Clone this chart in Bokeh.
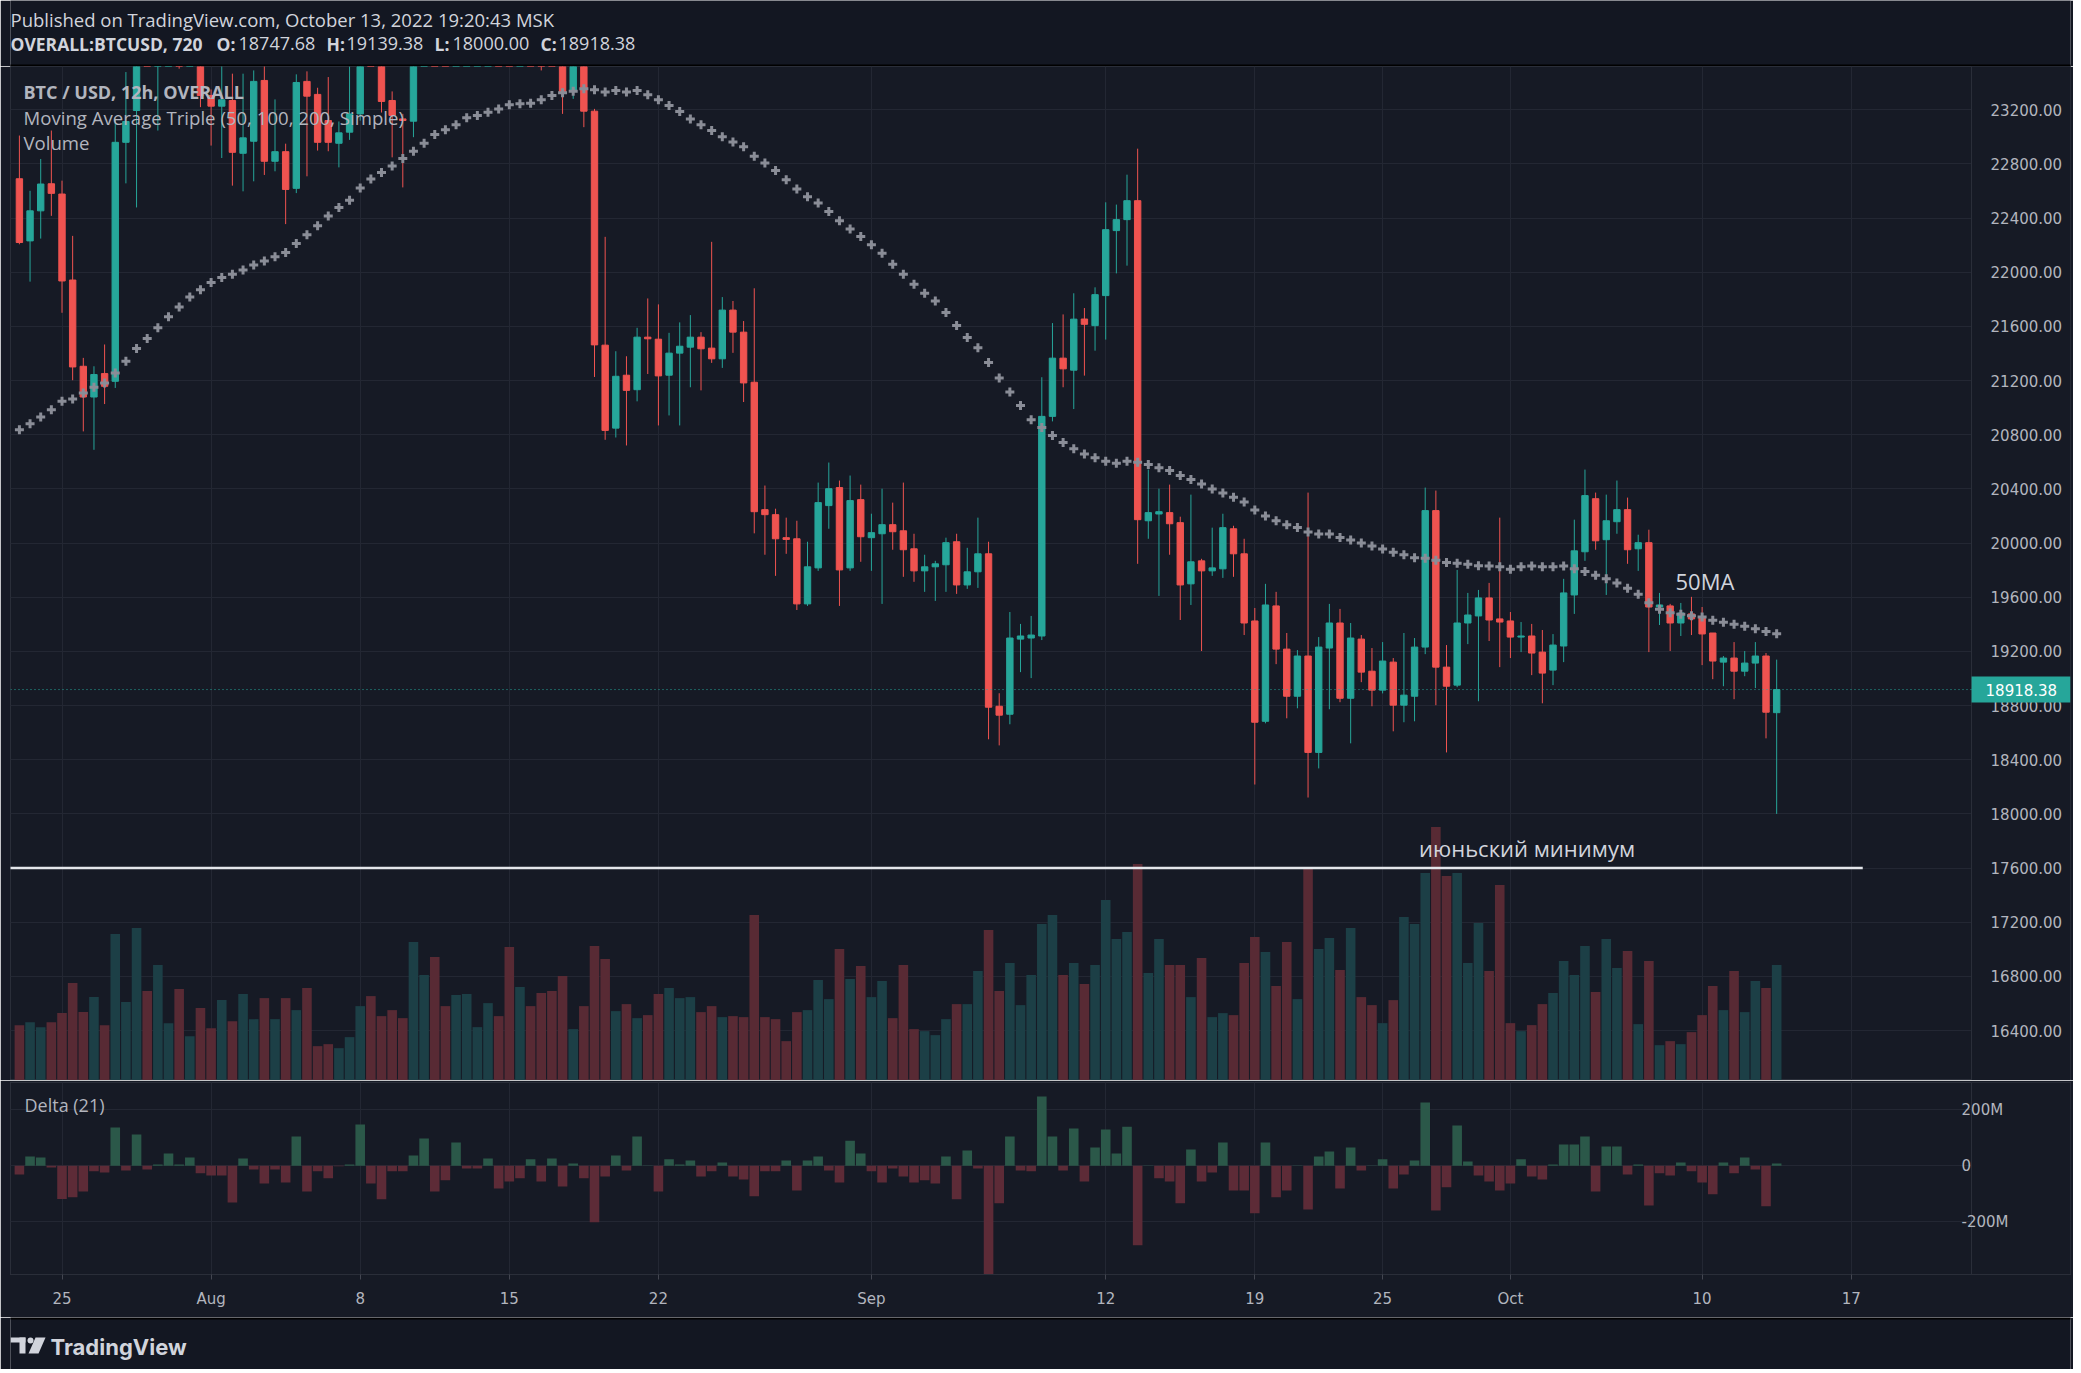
import pandas as pd
from bokeh.plotting import figure
from bokeh.layouts import column
from bokeh.models import (Range1d, FixedTicker, Label, Span, NumeralTickFormatter, Grid,
                          LinearAxis, BoxAnnotation)
from bokeh.embed import file_html
from bokeh.resources import INLINE
from bokeh.core.properties import value

# ---------------- data ----------------
start_time = "2022-07-23 00:00"   # first 12h candle

opens = [22691, 22232, 22454, 22654, 22578, 21943, 21306, 21079, 21252, 21195,
         22960, 23195, 23850, 23650, 23950, 24150, 23800, 23900, 23306, 23227,
         23269, 22879, 22968, 23417, 22820, 22891, 22620, 23410, 23314, 23121,
         22953, 23035, 23170, 23800, 23650, 23269, 23133, 23116, 23900, 24400,
         23950, 23800, 24100, 24300, 24450, 24600, 24300, 24100, 24200, 23950,
         23750, 23650, 23336, 23600, 23190, 21462, 20849, 21240, 21133, 21521,
         21506, 21240, 21403, 21447, 21521, 21440, 21361, 21721, 21558, 21188,
         20247, 20210, 20040, 20032, 19551, 19817, 20277, 20410, 19817, 20321,
         20040, 20069, 20136, 20091, 19958, 19795, 19825, 19840, 20010, 19691,
         19788, 19921, 18795, 18736, 19291, 19299, 19314, 20936, 21366, 21277,
         21655, 21606, 21828, 22308, 22389, 22529, 20165, 20215, 20225, 20151,
         19699, 19869, 19795, 19810, 20106, 19921, 19425, 18684, 19536, 19217,
         18869, 19166, 18454, 19225, 19410, 18854, 19291, 19054, 18914, 19121,
         18803, 18869, 19232, 20240, 19084, 18951, 19410, 19462, 19595, 19440,
         19425, 19306, 19314, 19195, 19062, 19240, 19617, 19936, 20328, 20025,
         20158, 20247, 19958, 20003, 19528, 19536, 19410, 19477, 19454, 19336,
         19121, 19151, 19054, 19114, 19166, 18747.68]

highs = [23010, 22602, 22837, 23047, 22677, 22269, 21368, 21306, 21467, 23133,
         23479, 24000, 24150, 24300, 24400, 24650, 24100, 24050, 23350, 23565,
         23467, 23467, 23491, 23565, 23277, 22950, 23462, 23484, 23363, 23442,
         23114, 23521, 23900, 24250, 23900, 23336, 23170, 24000, 24900, 24700,
         24300, 24450, 24500, 24850, 25000, 24700, 25200, 24300, 24250, 24200,
         24000, 23900, 23750, 23650, 23207, 22262, 21417, 21380, 21590, 21807,
         21763, 21553, 21630, 21684, 21558, 22225, 21817, 21788, 21640, 21882,
         20425, 20254, 20188, 20165, 20010, 20447, 20595, 20462, 20499, 20432,
         20217, 20402, 20299, 20447, 20069, 19914, 19869, 20040, 20069, 19965,
         20188, 20010, 18891, 19491, 19403, 19462, 21225, 21625, 21689, 21845,
         21736, 21889, 22517, 22500, 22721, 22913, 20543, 20402, 20432, 20195,
         20358, 19884, 20114, 20217, 20128, 20032, 19521, 19699, 19640, 19336,
         19210, 20373, 19306, 19551, 19514, 19410, 19321, 19225, 19269, 19151,
         19336, 19299, 20410, 20388, 19247, 19802, 19632, 19654, 19706, 20188,
         19491, 19417, 19403, 19358, 19328, 19736, 20173, 20543, 20373, 20358,
         20462, 20336, 20062, 20099, 19632, 19551, 19558, 19603, 19528, 19336,
         19166, 19269, 19203, 19269, 19188, 19139.38]

lows = [22207, 21931, 22249, 22417, 21701, 21203, 20825, 20689, 21027, 21146,
        22657, 22479, 23550, 23047, 23700, 23504, 23521, 23220, 22936, 22844,
        22640, 22598, 22672, 22719, 22746, 22356, 22585, 22709, 22899, 22894,
        22775, 22978, 23120, 23560, 23180, 22849, 22627, 22998, 23850, 23900,
        23600, 23700, 24000, 24200, 24250, 24100, 24000, 23800, 23750, 23491,
        23600, 23170, 23281, 23072, 21227, 20763, 20780, 20721, 21047, 21249,
        20869, 20943, 20869, 21151, 21128, 21331, 21294, 21405, 21042, 20072,
        19914, 19758, 19921, 19506, 19536, 19795, 20106, 19536, 19795, 19862,
        19795, 19551, 19951, 19751, 19714, 19640, 19573, 19640, 19625, 19662,
        19669, 18551, 18506, 18662, 19047, 19003, 19284, 20899, 21151, 20990,
        21237, 21421, 21503, 21992, 22049, 19847, 20032, 19610, 19914, 19432,
        19543, 19203, 19758, 19743, 19751, 19321, 18217, 18669, 19106, 18706,
        18780, 18121, 18336, 18773, 18825, 18521, 18973, 18795, 18890, 18610,
        18677, 18684, 19180, 18803, 18454, 18936, 19254, 18832, 19277, 19084,
        19151, 19195, 19025, 18817, 18951, 19121, 19477, 19869, 19951, 19617,
        20069, 19847, 19795, 19195, 19395, 19203, 19314, 19321, 19099, 18995,
        18943, 18847, 19017, 18929, 18558, 18000.00]

closes = [22220, 22454, 22652, 22583, 21936, 21301, 21079, 21245, 21158, 22960,
          23114, 23850, 23650, 23950, 24150, 23800, 23900, 23306, 23227, 23274,
          22886, 22993, 23410, 22820, 22891, 22612, 23402, 23301, 22960, 22960,
          23030, 23170, 23800, 23650, 23262, 23158, 23121, 23900, 24400, 23950,
          23800, 24100, 24300, 24450, 24600, 24300, 24100, 24200, 23950, 23750,
          23650, 23331, 23600, 23190, 21464, 20832, 21232, 21128, 21521, 21509,
          21235, 21403, 21454, 21521, 21435, 21361, 21721, 21558, 21183, 20232,
          20210, 20032, 20027, 19551, 19825, 20299, 20402, 19802, 20314, 20047,
          20077, 20136, 20084, 19951, 19795, 19825, 19847, 20003, 19691, 19788,
          19921, 18788, 18729, 19299, 19314, 19321, 20936, 21366, 21287, 21654,
          21616, 21835, 22315, 22389, 22529, 20173, 20225, 20232, 20143, 19691,
          19862, 19795, 19817, 20114, 19921, 19410, 18677, 19543, 19217, 18869,
          19166, 18454, 19232, 19410, 18854, 19299, 19047, 18914, 19129, 18803,
          18877, 19232, 20240, 19084, 18943, 19410, 19469, 19595, 19432, 19417,
          19306, 19314, 19188, 19040, 19247, 19632, 19943, 20351, 20017, 20165,
          20247, 19951, 20003, 19528, 19543, 19410, 19484, 19440, 19329, 19129,
          19151, 19054, 19114, 19166, 18751, 18918.38]

ma50 = [20837, 20882, 20931, 20985, 21047, 21064, 21109, 21151, 21183, 21257,
        21343, 21437, 21511, 21590, 21672, 21743, 21817, 21872, 21924, 21961,
        21985, 22017, 22054, 22084, 22114, 22146, 22212, 22277, 22343, 22415,
        22479, 22533, 22622, 22689, 22738, 22785, 22840, 22894, 22953, 23017,
        23052, 23089, 23141, 23158, 23183, 23207, 23237, 23244, 23249, 23274,
        23306, 23326, 23338, 23356, 23348, 23331, 23343, 23331, 23343, 23311,
        23274, 23232, 23188, 23133, 23089, 23047, 23002, 22963, 22928, 22857,
        22807, 22751, 22684, 22615, 22558, 22511, 22450, 22380, 22319, 22264,
        22203, 22141, 22059, 21985, 21911, 21845, 21788, 21704, 21608, 21519,
        21442, 21334, 21220, 21116, 21017, 20911, 20854, 20795, 20743, 20696,
        20659, 20630, 20605, 20590, 20605, 20598, 20580, 20556, 20536, 20499,
        20469, 20437, 20400, 20370, 20338, 20304, 20244, 20200, 20165, 20136,
        20116, 20082, 20067, 20067, 20042, 20022, 20000, 19978, 19956, 19933,
        19914, 19891, 19889, 19874, 19857, 19852, 19844, 19832, 19830, 19825,
        19807, 19825, 19830, 19825, 19825, 19830, 19810, 19790, 19763, 19736,
        19706, 19667, 19622, 19560, 19511, 19486, 19474, 19464, 19454, 19430,
        19415, 19400, 19385, 19368, 19348, 19331]

volume = [166, 175, 160, 175, 202, 292, 205, 250, 166, 439,
          235, 457, 268, 346, 172, 274, 133, 217, 157, 241,
          178, 259, 184, 247, 184, 247, 211, 277, 103, 109,
          97, 130, 223, 253, 193, 211, 187, 415, 316, 370,
          223, 256, 259, 160, 232, 193, 400, 280, 223, 262,
          268, 313, 154, 223, 403, 364, 208, 229, 187, 196,
          259, 277, 247, 250, 205, 223, 190, 193, 190, 496,
          190, 184, 118, 205, 211, 301, 244, 394, 304, 343,
          250, 298, 187, 346, 154, 148, 136, 184, 229, 229,
          328, 451, 268, 352, 226, 316, 469, 496, 316, 352,
          289, 346, 541, 424, 445, 649, 322, 424, 346, 346,
          250, 367, 190, 202, 196, 352, 430, 385, 283, 415,
          244, 640, 394, 427, 331, 457, 250, 226, 172, 241,
          490, 469, 622, 760, 613, 622, 352, 472, 328, 586,
          172, 148, 166, 229, 262, 358, 316, 403, 265, 424,
          337, 388, 169, 358, 106, 118, 109, 145, 196, 283,
          211, 328, 205, 298, 277, 346]

delta_m = [-31, 33, 30, -6, -119, -113, -92, -20, -24, 137,
           -17, 112, -13, 5, 44, 5, 30, -27, -35, -35,
           -131, 26, -13, -63, -13, -60, 105, -92, -20, -45,
           -2, 5, 148, -63, -120, -20, -20, 37, 98, -92,
           -52, 83, -10, -10, 26, -81, -56, -45, 23, -56,
           26, -74, 8, -45, -202, -38, 37, -17, 105, 1,
           -92, 23, 5, 19, -38, -20, 12, -38, -49, -109,
           -20, -20, 19, -88, 19, 33, -17, -60, 90, 44,
           -20, -60, -10, -38, -60, -52, -63, 33, -120, 55,
           -10, -388, -134, 105, -17, -20, 248, 105, -17, 133,
           -56, 65, 130, 44, 140, -284, 1, -45, -56, -134,
           58, -56, -24, 83, -88, -88, -170, 83, -113, -88,
           1, -156, 33, 51, -81, 65, -17, 1, 23, -81,
           -31, 19, 226, -160, -77, 144, 15, -35, -56, -88,
           -63, 23, -38, -49, 5, 76, 76, 105, -92, 69,
           69, -31, 5, -142, -27, -35, 12, -20, -60, -102,
           12, -27, 30, -13, -145, 8]

price_ticks = [16400, 16800, 17200, 17600, 18000, 18400, 18800, 19200, 19600,
               20000, 20400, 20800, 21200, 21600, 22000, 22400, 22800, 23200]
delta_ticks = [-200, 0, 200]
delta_tick_labels = ["-200M", "0", "200M"]
tick_dates = ["2022-07-25", "2022-08-01", "2022-08-08", "2022-08-15", "2022-08-22",
              "2022-09-01", "2022-09-12", "2022-09-19", "2022-09-25", "2022-10-01",
              "2022-10-10", "2022-10-17"]
tick_labels = ["25", "Aug", "8", "15", "22", "Sep", "12", "19", "25", "Oct", "10", "17"]
june_low = 17600
june_line_end = "2022-10-17 13:00"
ma_note_time, ma_note_price = "2022-10-08 18:00", 19717
june_note_time = "2022-09-26 17:00"

# ---------------- styling ----------------
PANE = "#161a25"
OUTER = "#131722"
GRID = "#232733"
SEP = "#2a2e39"
TXT = "#b2b5be"
UP, DOWN = "#26a69a", "#ef5350"
W = 2073
BL, BR = 10, 3            # left / right borders around every frame (frames are aligned)
SCALE_X = 183.3           # x (in candles) where the price scale begins

t0 = pd.Timestamp(start_time)
HALF = pd.Timedelta(hours=12)
def pos(ts):
    return (pd.Timestamp(ts) - t0) / HALF

n = len(closes)
idx = list(range(n))
is_up = [c >= o for o, c in zip(opens, closes)]
ccol = [UP if u else DOWN for u in is_up]
vcol = ["#1c3f46" if u else "#582a34" for u in is_up]
dcol = ["#2b5849" if v >= 0 else "#5d2b37" for v in delta_m]
btop = [max(o, c) for o, c in zip(opens, closes)]
bbot = [min(o, c) for o, c in zip(opens, closes)]
xt = [int(round(pos(d))) for d in tick_dates]

xr = Range1d(-0.836, 192.59)

def common(fig):
    for g in fig.grid:
        g.visible = False

def styled_axis(axis, standoff):
    axis.major_label_text_color = TXT
    axis.major_label_text_font = "DejaVu Sans"
    axis.major_label_text_font_size = "15px"
    axis.major_tick_line_color = None
    axis.minor_tick_line_color = None
    axis.axis_line_color = SEP
    axis.major_label_standoff = standoff

# ---------------- header ----------------
HH = 66
hdr = figure(width=W, height=HH, x_range=Range1d(BL, W - BR), y_range=Range1d(HH, 0),
             x_axis_location=None, y_axis_location=None, toolbar_location=None,
             output_backend="svg", min_border_left=BL, min_border_right=BR,
             min_border_top=0, min_border_bottom=0, background_fill_color=OUTER,
             border_fill_color=OUTER, outline_line_color=None)
common(hdr)
hdr.quad(left=[0], right=[W], top=[64], bottom=[66], fill_color="black", line_color=None)
hdr.text(x=[10], y=[19], text=["Published on TradingView.com, October 13, 2022 19:20:43 MSK"],
         text_font=value("Open Sans"), text_font_size=value("18.5px"),
         text_color="#d1d4dc", text_baseline="middle")
hdr.text(x=[10, 216, 326, 434, 540], y=[43] * 5,
         text=["OVERALL:BTCUSD, 720", "O:", "H:", "L:", "C:"],
         text_font=value("Open Sans"), text_font_size=value("17.5px"), text_font_style="bold",
         text_color="#d1d4dc", text_baseline="middle")
hdr.text(x=[238, 346, 452, 558], y=[43] * 4,
         text=[f"{opens[-1]:.2f}", f"{highs[-1]:.2f}", f"{lows[-1]:.2f}", f"{closes[-1]:.2f}"],
         text_font=value("Open Sans"), text_font_size=value("18px"),
         text_color="#d1d4dc", text_baseline="middle")

# ---------------- price pane ----------------
PH = 1014
p = figure(width=W, height=PH, x_range=xr, y_range=Range1d(16031, 23520),
           x_axis_location=None, y_axis_location=None, toolbar_location=None,
           output_backend="svg", min_border_left=BL, min_border_right=BR,
           min_border_top=0, min_border_bottom=0, background_fill_color=PANE,
           border_fill_color=PANE, outline_line_color=SEP)
common(p)
p.extra_y_ranges = {"vol": Range1d(0, max(volume) * 4.0)}
p.add_layout(Grid(dimension=1, ticker=FixedTicker(ticks=price_ticks), grid_line_color=GRID))
p.add_layout(Grid(dimension=0, ticker=FixedTicker(ticks=xt), grid_line_color=GRID))
p.add_layout(BoxAnnotation(left=SCALE_X, fill_color=PANE, fill_alpha=1, line_color=None,
                           level="underlay"))
ay = LinearAxis(fixed_location=SCALE_X, ticker=FixedTicker(ticks=price_ticks),
                formatter=NumeralTickFormatter(format="0.00"))
styled_axis(ay, 13)
p.add_layout(ay, "right")

p.vbar(x=idx, width=0.9, top=volume, bottom=0, y_range_name="vol",
       fill_color=vcol, line_color=None)
p.segment(x0=idx, y0=lows, x1=idx, y1=highs, line_color=ccol, line_width=1)
p.vbar(x=idx, width=0.6, top=btop, bottom=bbot, fill_color=ccol, line_color=ccol, line_width=1)
p.scatter(x=idx, y=ma50, marker="cross", size=9, line_color="#8a8d97", line_width=3)
p.segment(x0=[pos("2022-07-22")], y0=[june_low], x1=[pos(june_line_end)], y1=[june_low],
          line_color="#e4e6eb", line_width=2.6)

p.add_layout(Span(location=closes[-1], dimension="width", line_color=UP,
                  line_dash="1 3", line_width=1))
ppx = (23520 - 16031) / PH           # price units per pixel
p.add_layout(BoxAnnotation(left=SCALE_X, bottom=closes[-1] - 13 * ppx, top=closes[-1] + 13 * ppx,
                           fill_color=UP, fill_alpha=1, line_color=None))
p.add_layout(Label(x=SCALE_X, x_offset=14, y=closes[-1], text=f"{closes[-1]:.2f}",
                   text_align="left", text_baseline="middle", text_font="DejaVu Sans",
                   text_font_size="15px", text_color="white"))
p.add_layout(Label(x=pos(ma_note_time), y=ma_note_price, text="50MA", text_font="Open Sans",
                   text_font_size="22px", text_color="#d1d4dc", text_baseline="middle"))
p.add_layout(Label(x=pos(june_note_time), y=june_low + 150, text="июньский минимум",
                   text_font="Open Sans", text_font_size="22px", text_color="#d1d4dc",
                   text_baseline="alphabetic"))
for txt, dy, bold, fs in [("BTC / USD, 12h, OVERALL", 25, True, "18px"),
                          ("Moving Average Triple (50, 100, 200, Simple)", 51, False, "18.6px"),
                          ("Volume", 76, False, "18.6px")]:
    p.add_layout(Label(x=13, y=PH - dy, x_units="screen", y_units="screen", text=txt,
                       text_font="Open Sans", text_font_size=fs,
                       text_font_style="bold" if bold else "normal",
                       text_color=TXT, text_baseline="middle"))

# ---------------- delta pane ----------------
DH = 237
d = figure(width=W, height=DH, x_range=xr, y_range=Range1d(-389, 298),
           y_axis_location=None, toolbar_location=None, output_backend="svg",
           min_border_left=BL, min_border_right=BR, min_border_top=2, min_border_bottom=43,
           background_fill_color=PANE, border_fill_color=PANE, outline_line_color=SEP)
common(d)
d.add_layout(Grid(dimension=1, ticker=FixedTicker(ticks=delta_ticks), grid_line_color=GRID))
d.add_layout(Grid(dimension=0, ticker=FixedTicker(ticks=xt), grid_line_color=GRID))
d.add_layout(BoxAnnotation(left=SCALE_X, fill_color=PANE, fill_alpha=1, line_color=None,
                           level="underlay"))
d.vbar(x=idx, width=0.9, top=delta_m, bottom=0, fill_color=dcol, line_color=None)
ax = d.xaxis[0]
ax.ticker = FixedTicker(ticks=xt)
ax.major_label_overrides = {t: lab for t, lab in zip(xt, tick_labels)}
styled_axis(ax, 10)
ax.major_tick_line_color = "#434651"
ax.major_tick_out = 5
ax.major_tick_in = 0
dax = LinearAxis(fixed_location=SCALE_X, ticker=FixedTicker(ticks=delta_ticks))
dax.major_label_overrides = {t: lab for t, lab in zip(delta_ticks, delta_tick_labels)}
styled_axis(dax, -16)
d.add_layout(dax, "right")
d.add_layout(Label(x=14, y=(DH - 45) - 22, x_units="screen", y_units="screen",
                   text="Delta (21)", text_font="Open Sans", text_font_size="18px",
                   text_color=TXT, text_baseline="middle"))

# ---------------- footer ----------------
FH = 52
ft = figure(width=W, height=FH, x_range=Range1d(BL, W - BR), y_range=Range1d(FH, 0),
            x_axis_location=None, y_axis_location=None, toolbar_location=None,
            output_backend="svg", min_border_left=BL, min_border_right=BR,
            min_border_top=0, min_border_bottom=0, background_fill_color=OUTER,
            border_fill_color=OUTER, outline_line_color=None)
common(ft)
ft.quad(left=[0], right=[W], top=[0], bottom=[2], fill_color="black", line_color=None)
LOGO = "#d1d4dc"
ft.quad(left=[10, 19], right=[25, 25], top=[20, 20], bottom=[25, 36], fill_color=LOGO, line_color=None)
ft.circle(x=[30], y=[23], radius=3, fill_color=LOGO, line_color=None)
ft.patch(x=[35, 45, 38, 28], y=[20, 20, 36, 36], fill_color=LOGO, line_color=None)
ft.text(x=[50], y=[29], text=["TradingView"], text_font=value("Inter"),
        text_font_style="bold", text_font_size=value("22px"), text_color=LOGO,
        text_baseline="middle")

layout = column(hdr, p, d, ft, spacing=0)
html = file_html(layout, INLINE)
html = html.replace("<body>", '<body style="background-color:#131722;">', 1)
open("out.html", "w").write(html)
